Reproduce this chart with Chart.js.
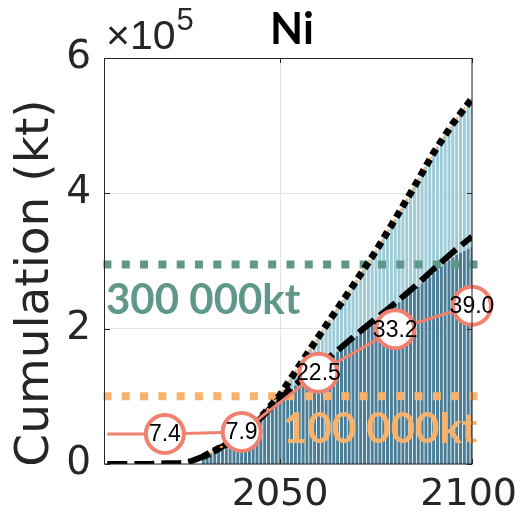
<!DOCTYPE html>
<html><head><meta charset="utf-8">
<script src="https://cdn.jsdelivr.net/npm/chart.js@4.4.1/dist/chart.umd.min.js"></script>
<style>html,body{margin:0;padding:0;background:#fff}#wrap{width:520px;height:516px;position:relative}</style>
</head><body><div id="wrap"><canvas id="c" width="520" height="516"></canvas></div>
<script>
// ---- data (cumulative values in units of 10^5 kt) ----
const barYears = [2030,2031,2032,2033,2034,2035,2036,2037,2038,2039,2040,2041,2042,2043,2044,2045,2046,2047,2048,2049,2050,2051,2052,2053,2054,2055,2056,2057,2058,2059,2060,2061,2062,2063,2064,2065,2066,2067,2068,2069,2070,2071,2072,2073,2074,2075,2076,2077,2078,2079,2080,2081,2082,2083,2084,2085,2086,2087,2088,2089,2090,2091,2092,2093,2094,2095,2096,2097,2098,2099,2100];
const darkCum = [0.10,0.13,0.16,0.19,0.22,0.25,0.28,0.31,0.34,0.37,0.41,0.46,0.51,0.56,0.61,0.67,0.73,0.79,0.85,0.91,0.97,1.01,1.06,1.11,1.16,1.20,1.25,1.30,1.34,1.39,1.43,1.48,1.52,1.57,1.61,1.66,1.71,1.75,1.80,1.85,1.89,1.94,1.98,2.03,2.07,2.12,2.16,2.21,2.25,2.30,2.34,2.39,2.43,2.48,2.53,2.57,2.62,2.67,2.72,2.77,2.82,2.87,2.92,2.97,3.01,3.05,3.09,3.12,3.15,3.18,3.21];
const lightCum = [0,0,0,0,0,0,0,0,0,0,0,0,0,0,0,0,0,0.01,0.02,0.03,0.05,0.09,0.13,0.17,0.20,0.25,0.29,0.32,0.37,0.40,0.45,0.48,0.53,0.56,0.61,0.64,0.67,0.72,0.75,0.79,0.83,0.87,0.91,0.95,0.99,1.03,1.08,1.13,1.18,1.23,1.28,1.33,1.38,1.43,1.47,1.53,1.58,1.63,1.68,1.73,1.78,1.82,1.86,1.89,1.94,1.98,2.01,2.05,2.08,2.12,2.15];
const dashedYears = [2005,2010,2015,2020,2025,2030,2035,2040,2045,2050,2055,2060,2065,2070,2075,2080,2085,2090,2095,2100];
const dashedCum = [0,0,0,0.01,0.02,0.11,0.26,0.42,0.68,0.98,1.22,1.45,1.68,1.92,2.15,2.38,2.62,2.88,3.13,3.36];
const dottedYears = [2030,2035,2040,2045,2050,2055,2060,2065,2070,2075,2080,2085,2090,2095,2100];
const dottedCum = [0.11,0.26,0.42,0.69,1.02,1.45,1.88,2.30,2.72,3.15,3.62,4.10,4.60,5.03,5.40];
const shareYears = [2005,2020,2040,2060,2080,2100];
const sharePct = [7.4,7.4,7.9,22.5,33.2,39.0];
const thresholdValues = [2.95,1.0];
const thresholdLabels = ['300 000kt','100 000kt'];
const thresholdSpan = [2004,2102];
const yTicks = [0,2,4,6];
const xTicks = [2050,2100];
const title = 'Ni';
const yTitle = 'Cumulation (kt)';

// ---- styles ----
const PINK = '#f2806f', GREEN = '#5f978a', ORANGE = '#f8b26c';
const DARK = '#4a7d96', LIGHT = '#9fccd7', TXT = '#262626';

const pts = (xs, ys) => xs.map((x, i) => ({x, y: ys[i]}));

const deco = {
  id: 'deco',
  afterDatasetsDraw(chart) {
    const {ctx, chartArea: a, scales: {x, y}} = chart;
    ctx.save();
    ctx.font = 'bold 42px Lato';
    ctx.textAlign = 'left';
    ctx.textBaseline = 'alphabetic';
    ctx.fillStyle = GREEN;
    ctx.fillText(thresholdLabels[0], a.left + 1, y.getPixelForValue(thresholdValues[0]) + 50);
    ctx.fillStyle = ORANGE;
    ctx.fillText(thresholdLabels[1], x.getPixelForValue(2050) + 3, y.getPixelForValue(thresholdValues[1]) + 47);
    const meta = chart.getDatasetMeta(0);
    ctx.font = '23px "Liberation Sans"';
    ctx.textAlign = 'center';
    ctx.textBaseline = 'middle';
    ctx.fillStyle = '#000';
    meta.data.forEach((el, i) => {
      if (i === 0) return;
      ctx.fillText(sharePct[i].toFixed(1), el.x, el.y + 1);
    });
    ctx.restore();
  },
  afterDraw(chart) {
    const {ctx, chartArea: a, scales: {x, y}} = chart;
    ctx.save();
    ctx.strokeStyle = TXT;
    ctx.lineWidth = 1;
    ctx.strokeRect(Math.round(a.left) - 0.5, Math.round(a.top) + 0.5, Math.round(a.right - a.left) + 0.5, Math.round(a.bottom - a.top) - 0.5);
    ctx.beginPath();
    yTicks.forEach(v => {
      const py = Math.round(y.getPixelForValue(v)) + 0.5;
      ctx.moveTo(a.left, py); ctx.lineTo(a.left + 5, py);
      ctx.moveTo(a.right, py); ctx.lineTo(a.right - 5, py);
    });
    xTicks.forEach(v => {
      const px = Math.round(x.getPixelForValue(v)) + 0.5;
      ctx.moveTo(px, a.bottom); ctx.lineTo(px, a.bottom - 5);
      ctx.moveTo(px, a.top); ctx.lineTo(px, a.top + 5);
    });
    ctx.stroke();
    // x tick labels
    ctx.fillStyle = TXT;
    ctx.font = '38px "DejaVu Sans"';
    ctx.textAlign = 'center';
    ctx.textBaseline = 'middle';
    xTicks.forEach(v => {
      const s = String(v);
      const w = ctx.measureText(s).width;
      const cx = Math.min(x.getPixelForValue(v), chart.width - 3 - w / 2);
      ctx.fillText(s, cx, a.bottom + 31);
    });
    // title
    ctx.fillStyle = '#000';
    ctx.font = 'bold 43px Lato';
    ctx.textAlign = 'center';
    ctx.textBaseline = 'alphabetic';
    ctx.fillText(title, 292, 44);
    // exponent
    ctx.fillStyle = TXT;
    ctx.textAlign = 'left';
    ctx.font = '41px "Liberation Sans"';
    ctx.fillText('\u00d710', 106, 49);
    const w = ctx.measureText('\u00d710').width;
    ctx.font = '31px "Liberation Sans"';
    ctx.fillText('5', 106 + w + 1, 30);
    // y title
    ctx.translate(36, 283);
    ctx.rotate(-Math.PI / 2);
    ctx.font = '47px "DejaVu Sans"';
    ctx.textAlign = 'center';
    ctx.textBaseline = 'middle';
    ctx.fillText(yTitle, 0, 0);
    ctx.restore();
  }
};

new Chart(document.getElementById('c'), {
  type: 'bar',
  data: {
    datasets: [
      {type: 'line', data: pts(shareYears, sharePct), yAxisID: 'y2', borderColor: PINK, borderWidth: 3,
       pointRadius: c => c.dataIndex === 0 ? 0 : 19, pointBackgroundColor: '#fff', pointBorderColor: PINK,
       pointBorderWidth: 4, clip: false, order: 0},
      {type: 'line', data: pts(dottedYears, dottedCum), yAxisID: 'y', borderColor: '#000', borderWidth: 7,
       borderDash: [7, 5], pointRadius: 0, order: 1},
      {type: 'line', data: pts(dottedYears, dottedCum), yAxisID: 'y', borderColor: ORANGE, borderWidth: 2,
       borderDash: [3, 9], borderDashOffset: -7, pointRadius: 0, order: 2},
      {type: 'line', data: pts(dashedYears, dashedCum), yAxisID: 'y', borderColor: '#000', borderWidth: 6,
       borderDash: [20, 7], pointRadius: 0, cubicInterpolationMode: 'monotone', order: 3},
      {type: 'line', data: pts(thresholdSpan, [thresholdValues[0], thresholdValues[0]]), yAxisID: 'y',
       borderColor: GREEN, borderWidth: 8, borderDash: [8, 10.3], pointRadius: 0, clip: false, order: 4},
      {type: 'line', data: pts(thresholdSpan, [thresholdValues[1], thresholdValues[1]]), yAxisID: 'y',
       borderColor: ORANGE, borderWidth: 8, borderDash: [8, 10.3], pointRadius: 0, clip: false, order: 4},
      {type: 'bar', data: pts(barYears, darkCum), yAxisID: 'yb', backgroundColor: DARK, grouped: false,
       barPercentage: 0.78, categoryPercentage: 1, order: 10},
      {type: 'bar', data: pts(barYears, lightCum), yAxisID: 'yb', backgroundColor: LIGHT, grouped: false,
       barPercentage: 0.78, categoryPercentage: 1, order: 10}
    ]
  },
  options: {
    responsive: false, animation: false, events: [],
    layout: {padding: {top: 58, right: 48, bottom: 0, left: 0}},
    plugins: {legend: {display: false}, tooltip: {enabled: false}, title: {display: false}},
    scales: {
      x: {type: 'linear', min: 2004.4, max: 2100, offset: false,
          grid: {color: '#e4e4e4', drawTicks: false, offset: false}, border: {display: false},
          ticks: {display: false},
          afterBuildTicks: s => { s.ticks = xTicks.map(v => ({value: v})); },
          afterFit: s => { s.height = 52; s.paddingLeft = 0; s.paddingRight = 0; }},
      y: {min: 0, max: 6,
          grid: {color: '#e4e4e4', drawTicks: false}, border: {display: false},
          ticks: {font: {family: 'DejaVu Sans', size: 39}, color: TXT, padding: 14},
          afterBuildTicks: s => { s.ticks = yTicks.map(v => ({value: v})); },
          afterFit: s => { s.width = 105; s.paddingTop = 0; s.paddingBottom = 0; }},
      yb: {display: false, stacked: true, min: 0, max: 6},
      y2: {display: false, min: 0, max: 100}
    }
  },
  plugins: [deco]
});
</script>
</body></html>
